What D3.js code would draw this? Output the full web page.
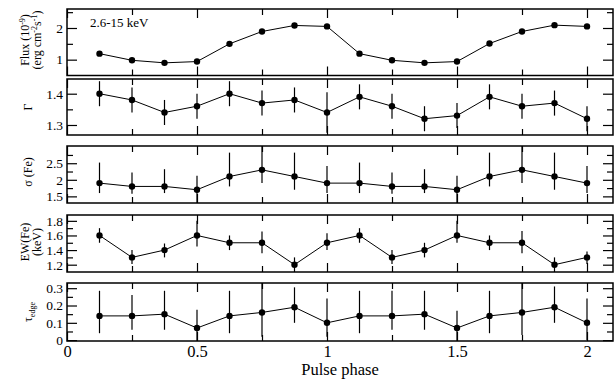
<!DOCTYPE html>
<html>
<head>
<meta charset="utf-8">
<script src="https://cdn.jsdelivr.net/npm/d3@7"></script>
<style>
body { margin: 0; background: #fff; }
text { font-family: "Liberation Serif", "Times New Roman", serif; fill: #000; }
</style>
</head>
<body>
<div id="chart"></div>
<script>
// pulse phase bins (two cycles)
const phase = [0.125, 0.25, 0.375, 0.5, 0.625, 0.75, 0.875, 1.0,
               1.125, 1.25, 1.375, 1.5, 1.625, 1.75, 1.875, 2.0];

// flux 2.6-15 keV (1e-9 erg cm-2 s-1)
const flux = [1.19, 0.98, 0.90, 0.94, 1.50, 1.89, 2.08, 2.05,
              1.19, 0.98, 0.90, 0.94, 1.51, 1.89, 2.09, 2.05];

// photon index
const gamma   = [1.40, 1.38, 1.34, 1.36, 1.40, 1.37, 1.38, 1.34,
                 1.39, 1.36, 1.32, 1.33, 1.39, 1.36, 1.37, 1.32];
const gammaLo = [1.36, 1.34, 1.30, 1.32, 1.36, 1.33, 1.34, 1.275,
                 1.35, 1.32, 1.28, 1.29, 1.35, 1.32, 1.33, 1.28];
const gammaHi = [1.44, 1.42, 1.38, 1.40, 1.44, 1.41, 1.42, 1.405,
                 1.43, 1.40, 1.36, 1.37, 1.43, 1.40, 1.41, 1.36];

// sigma(Fe)
const sigma   = [1.9, 1.8, 1.8, 1.7, 2.1, 2.3, 2.1, 1.9,
                 1.9, 1.8, 1.8, 1.7, 2.1, 2.3, 2.1, 1.9];
const sigmaLo = [1.6, 1.58, 1.6, 1.25, 1.8, 1.9, 1.7, 1.6,
                 1.6, 1.58, 1.6, 1.25, 1.8, 1.9, 1.7, 1.6];
const sigmaHi = [2.52, 2.22, 2.32, 2.12, 2.82, 3.1, 2.82, 2.42,
                 2.52, 2.22, 2.32, 2.12, 2.82, 3.1, 2.82, 2.42];

// EW(Fe) keV
const ew   = [1.6, 1.3, 1.4, 1.6, 1.5, 1.5, 1.2, 1.5,
              1.6, 1.3, 1.4, 1.6, 1.5, 1.5, 1.2, 1.3];
const ewLo = [1.5, 1.21, 1.3, 1.45, 1.4, 1.355, 1.05, 1.4,
              1.5, 1.21, 1.3, 1.5, 1.4, 1.355, 1.05, 1.21];
const ewHi = [1.7, 1.4, 1.49, 1.8, 1.6, 1.655, 1.3, 1.63,
              1.7, 1.4, 1.5, 1.8, 1.6, 1.66, 1.3, 1.38];

// tau edge
const tau   = [0.14, 0.14, 0.15, 0.07, 0.14, 0.16, 0.19, 0.10,
               0.14, 0.14, 0.15, 0.07, 0.14, 0.16, 0.19, 0.10];
const tauLo = [0.04, 0.06, 0.06, -0.03, 0.04, 0.02, 0.10, 0.02,
               0.04, 0.06, 0.06, -0.03, 0.04, 0.03, 0.10, 0.0];
const tauHi = [0.285, 0.26, 0.285, 0.175, 0.285, 0.35, 0.305, 0.24,
               0.285, 0.285, 0.285, 0.17, 0.285, 0.35, 0.31, 0.24];

const xTicks = [0, 0.5, 1, 1.5, 2];
const xMinor = [0.25, 0.75, 1.25, 1.75];

const width = 616, height = 382;
const left = 67, right = 613;
const serif = '"Liberation Serif", "Times New Roman", serif';

const svg = d3.select('#chart').append('svg')
    .attr('width', width)
    .attr('height', height);

const x = d3.scaleLinear().domain([0, 2.1]).range([left, right]);
const fmt = d => String(+d.toFixed(2));

const panels = [
    { top: 9, bottom: 75.5, y: flux, domain: [0.5, 2.6], ticks: [1, 2], minor: [1.5, 2.5],
      label: [[['Flux (10', ''], ['-9', 'sup'], [')', '']], [['(erg cm', ''], ['-2', 'sup'], ['s', ''], ['-1', 'sup'], [')', '']]],
      labelX: [29, 41], labelY: 40 },
    { top: 79, bottom: 135, y: gamma, lo: gammaLo, hi: gammaHi, domain: [1.268, 1.447],
      ticks: [1.3, 1.4], minor: [1.35],
      label: [[['\u0393', '']]], labelX: [32], labelY: 107 },
    { top: 146, bottom: 203, y: sigma, lo: sigmaLo, hi: sigmaHi, domain: [1.3, 3.02],
      ticks: [1.5, 2, 2.5], minor: [1.75, 2.25, 2.75],
      label: [[['\u03c3 (Fe)', '']]], labelX: [32], labelY: 172 },
    { top: 215, bottom: 272, y: ew, lo: ewLo, hi: ewHi, domain: [1.1, 1.88],
      ticks: [1.2, 1.4, 1.6, 1.8], minor: [1.3, 1.5, 1.7],
      label: [[['EW(Fe)', '']], [['(keV)', '']]], labelX: [29, 41], labelY: 242 },
    { top: 283, bottom: 341, y: tau, lo: tauLo, hi: tauHi, domain: [-0.005, 0.33],
      ticks: [0, 0.1, 0.2, 0.3], minor: [0.05, 0.15, 0.25],
      label: [[['\u03c4', ''], ['edge', 'sub']]], labelX: [32], labelY: 312 }
];

const plot = (p, i) => {
    const y = d3.scaleLinear().domain(p.domain).range([p.bottom, p.top]).clamp(true);
    const g = svg.append('g').classed('panel', true);

    // ticks on all four sides, pointing inwards
    const addAxis = (axis, tf, size, values, labels) => {
        const a = g.append('g')
            .attr('transform', tf)
            .call(axis.tickValues(values).tickSize(-size).tickPadding(labels ? 4 : 0)
                .tickFormat(labels ? fmt : ''));
        a.attr('font-family', serif).attr('font-size', null);
        a.select('.domain').remove();
        a.selectAll('line').attr('stroke', '#000').attr('stroke-width', 1.2);
        a.selectAll('text').style('font-family', serif);
        return a;
    };
    const yl = addAxis(d3.axisLeft(y), `translate(${left},0)`, 10, p.ticks, true);
    yl.selectAll('text').style('font-size', '13.5px');
    addAxis(d3.axisLeft(y), `translate(${left},0)`, 6, p.minor, false);
    addAxis(d3.axisRight(y), `translate(${right},0)`, 10, p.ticks, false);
    addAxis(d3.axisRight(y), `translate(${right},0)`, 6, p.minor, false);
    addAxis(d3.axisTop(x), `translate(0,${p.top})`, 9, xTicks, false);
    addAxis(d3.axisTop(x), `translate(0,${p.top})`, 6, xMinor, false);
    const last = i === panels.length - 1;
    const xb = addAxis(d3.axisBottom(x), `translate(0,${p.bottom})`, 9, xTicks, last);
    addAxis(d3.axisBottom(x), `translate(0,${p.bottom})`, 6, xMinor, false);
    if (last) {
        xb.selectAll('text').style('font-size', '16.5px');
    }

    // frame
    g.append('rect')
        .attr('x', left).attr('y', p.top)
        .attr('width', right - left).attr('height', p.bottom - p.top)
        .attr('fill', 'none').attr('stroke', '#000').attr('stroke-width', 1.5);

    // error bars
    if (p.lo) {
        g.selectAll('.err')
            .data(phase)
            .enter()
            .append('line')
            .classed('err', true)
            .attr('x1', d => x(d)).attr('x2', d => x(d))
            .attr('y1', (d, j) => y(p.lo[j]))
            .attr('y2', (d, j) => y(p.hi[j]))
            .attr('stroke', '#000').attr('stroke-width', 1.2);
    }

    const line = d3.line().x(d => x(d)).y((d, j) => y(p.y[j]));
    g.append('path')
        .datum(phase)
        .attr('d', line)
        .attr('fill', 'none').attr('stroke', '#000').attr('stroke-width', 1);

    g.selectAll('.pt')
        .data(phase)
        .enter()
        .append('circle')
        .classed('pt', true)
        .attr('cx', d => x(d))
        .attr('cy', (d, j) => y(p.y[j]))
        .attr('r', 3.2)
        .attr('fill', '#000');

    // y title
    p.label.forEach((parts, k) => {
        const t = svg.append('text')
            .attr('transform', `translate(${p.labelX[k]},${p.labelY}) rotate(-90)`)
            .style('text-anchor', 'middle')
            .style('font-family', serif)
            .style('font-size', '12px');
        let shift = 0;
        parts.forEach(([s, kind]) => {
            const ts = t.append('tspan').text(s);
            const want = kind === 'sup' ? -4 : kind === 'sub' ? 3 : 0;
            ts.attr('dy', want - shift);
            if (kind) ts.style('font-size', '8px');
            shift = want;
        });
    });
};

panels.forEach(plot);

svg.append('text')
    .attr('x', 90).attr('y', 27)
    .style('font-family', serif)
    .style('font-size', '13px')
    .text('2.6-15 keV');

svg.append('text')
    .attr('x', (left + right) / 2).attr('y', 375)
    .style('text-anchor', 'middle')
    .style('font-family', serif)
    .style('font-size', '16.5px')
    .text('Pulse phase');
</script>
</body>
</html>
